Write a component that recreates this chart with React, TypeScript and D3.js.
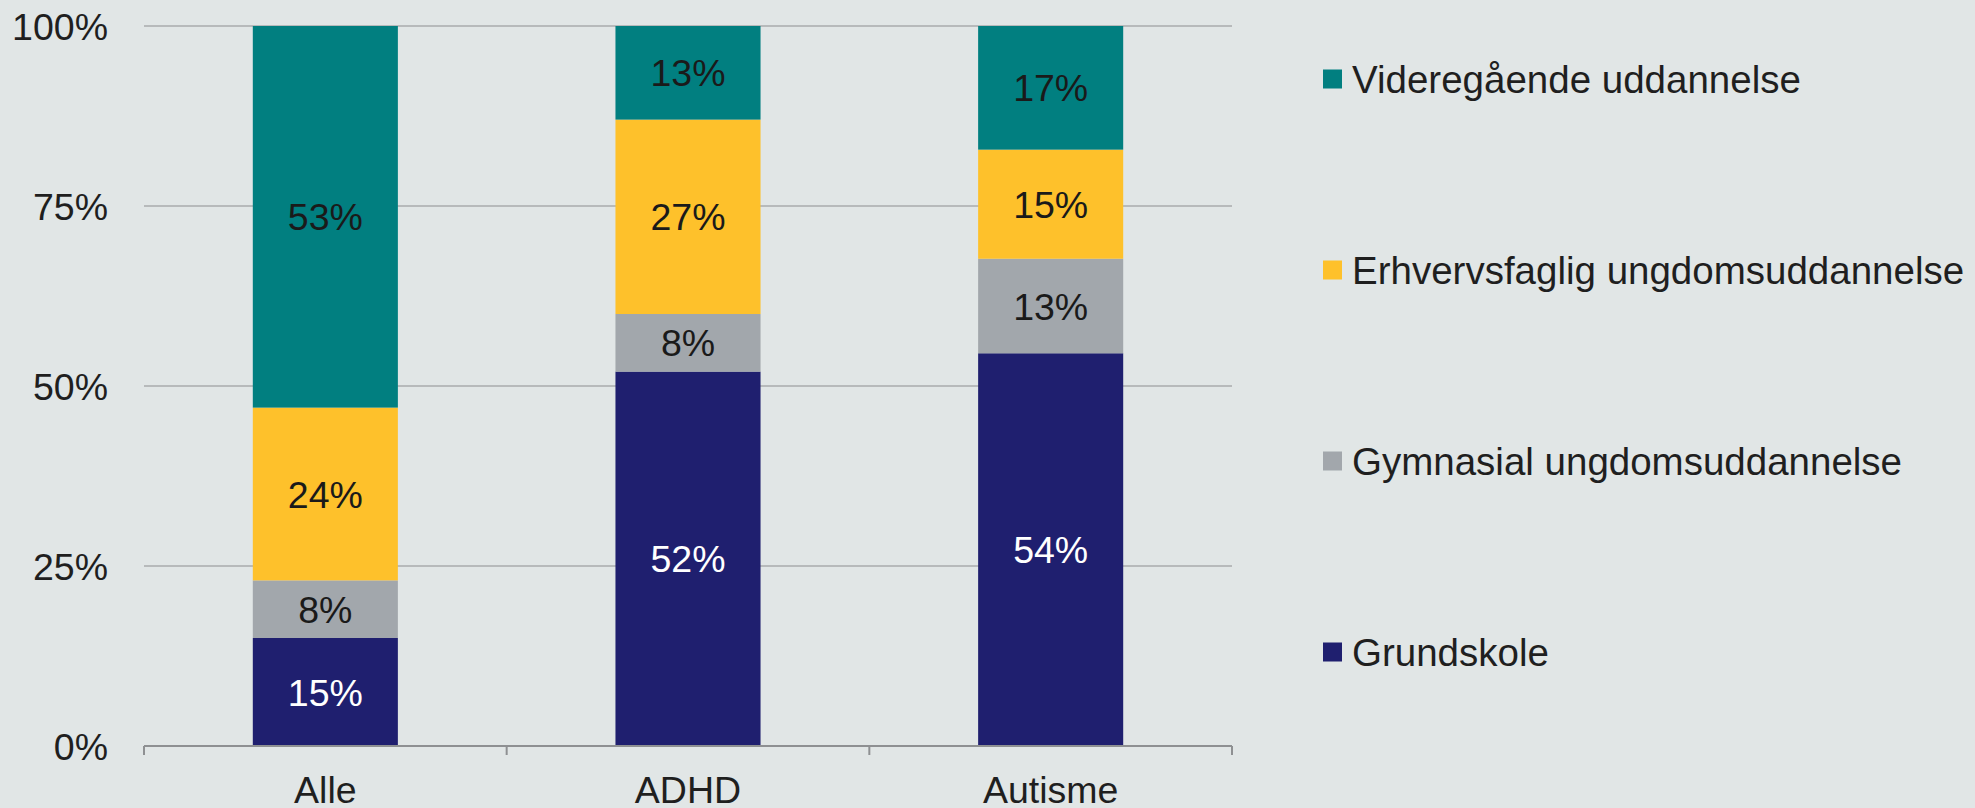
import React from "react";
import * as d3 from "d3";

const categories = ["Alle", "ADHD", "Autisme"];
const seriesNames = [
  "Grundskole",
  "Gymnasial ungdomsuddannelse",
  "Erhvervsfaglig ungdomsuddannelse",
  "Videregående uddannelse",
];
const grundskole = [15, 52, 54];
const gymnasial = [8, 8, 13];
const erhvervsfaglig = [24, 27, 15];
const videregaaende = [53, 13, 17];
const yTicks = [0, 0.25, 0.5, 0.75, 1];

const colors = ["#1F1F6F", "#A2A7AC", "#FEC12B", "#017F80"];
const labelColors = ["#FFFFFF", "#1A1A1A", "#1A1A1A", "#1A1A1A"];
const legendOrder = [3, 2, 1, 0];

const W = 1975;
const H = 808;
const FONT = "'Liberation Sans', Arial, Helvetica, sans-serif";
const FS = 37.5;

export default function App() {
  const seriesValues = [grundskole, gymnasial, erhvervsfaglig, videregaaende];
  const rows = categories.map((c, i) => {
    const r: any = { cat: c };
    seriesNames.forEach((s, j) => (r[s] = seriesValues[j][i]));
    return r;
  });
  const stack = d3.stack<any>().keys(seriesNames).offset(d3.stackOffsetExpand);
  const stacked = stack(rows);

  const left = 144;
  const right = 1232;
  const top = 26;
  const bottom = 746;

  const x = d3
    .scaleBand()
    .domain(categories)
    .range([left, right])
    .paddingInner(0.6)
    .paddingOuter(0.3);
  const step = x.step();
  const y = d3.scaleLinear().domain([0, 1]).range([bottom, top]);

  const boundaries = d3.range(categories.length + 1).map((i) => left + i * ((right - left) / categories.length));

  const legendY = d3.scalePoint().domain(legendOrder.map(String)).range([79, 652]);

  return (
    <svg
      width={W}
      height={H}
      style={{ position: "absolute", left: 0, top: 0, background: "#E1E6E6" }}
      fontFamily={FONT}
    >
      <rect x={0} y={0} width={W} height={H} fill="#E1E6E6" />
      {yTicks.map((t) => (
        <g key={t}>
          {t > 0 && (
            <line x1={left} x2={right} y1={y(t)} y2={y(t)} stroke="#A9ABAD" strokeWidth={1.5} />
          )}
          <text
            x={108}
            y={y(t)}
            dy="0.36em"
            textAnchor="end"
            fontSize={FS}
            fill="#1F1F1F"
          >
            {d3.format(".0%")(t)}
          </text>
        </g>
      ))}
      {stacked.map((s, si) => (
        <g key={s.key}>
          {s.map((d, ci) => {
            const cat = categories[ci];
            const y0 = y(d[0]);
            const y1 = y(d[1]);
            const cx = (x(cat) as number) + x.bandwidth() / 2;
            return (
              <g key={cat}>
                <rect
                  x={x(cat)}
                  y={y1}
                  width={x.bandwidth()}
                  height={y0 - y1}
                  fill={colors[si]}
                />
                <text
                  x={cx}
                  y={(y0 + y1) / 2}
                  dy="0.36em"
                  textAnchor="middle"
                  fontSize={FS}
                  fill={labelColors[si]}
                >
                  {seriesValues[si][ci] + "%"}
                </text>
              </g>
            );
          })}
        </g>
      ))}
      <line x1={left} x2={right} y1={bottom} y2={bottom} stroke="#8E9092" strokeWidth={2} />
      {boundaries.map((bx, i) => (
        <line key={i} x1={bx} x2={bx} y1={bottom} y2={bottom + 9} stroke="#8E9092" strokeWidth={2} />
      ))}
      {categories.map((c) => (
        <text
          key={c}
          x={(x(c) as number) + x.bandwidth() / 2}
          y={803}
          textAnchor="middle"
          fontSize={FS}
          fill="#1F1F1F"
        >
          {c}
        </text>
      ))}
      {legendOrder.map((si) => {
        const cy = legendY(String(si)) as number;
        return (
          <g key={si}>
            <rect x={1323} y={cy - 9.5} width={19} height={19} fill={colors[si]} />
            <text x={1352} y={cy} dy="0.36em" fontSize={38.5} fill="#1F1F1F">
              {seriesNames[si]}
            </text>
          </g>
        );
      })}
    </svg>
  );
}
